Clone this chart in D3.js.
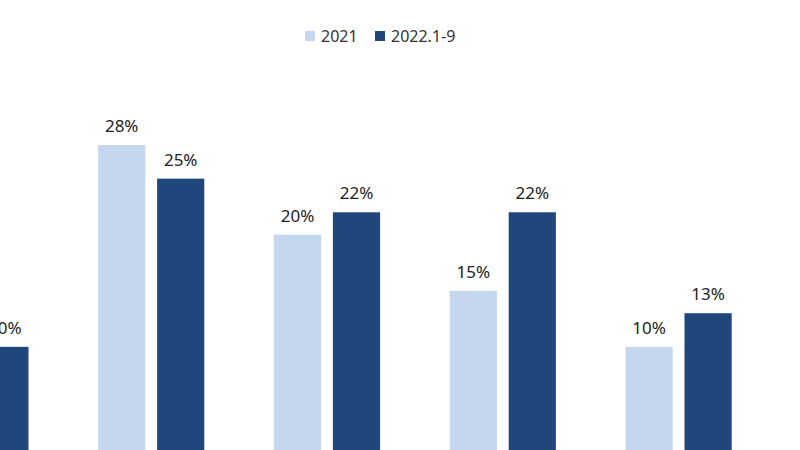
<!DOCTYPE html>
<html><head><meta charset="utf-8">
<script src="https://cdn.jsdelivr.net/npm/d3@7"></script>
<style>body{margin:0;background:#fff;} text{font-family:"Microsoft YaHei","Noto Sans",sans-serif;}</style>
</head><body>
<svg id="chart" width="800" height="450"></svg>
<script>
// groups (the first one is cut off at the left edge of the picture)
var categories = ["g0", "g1", "g2", "g3", "g4"];
var series = ["2021", "2022.1-9"];
var values2021 = [12, 28, 20, 15, 10];
var values2022 = [10, 25, 22, 22, 13];
var colors = ["#c5d7ee", "#1f477c"];

var svg = d3.select("#chart");

var x = d3.scaleBand().domain(categories).range([-112.5, 766.5]).paddingInner(0).paddingOuter(0);
var inner = d3.scaleBand().domain(series).range([0, x.bandwidth()]).paddingInner(0.2).paddingOuter(0.59);
var y = d3.scaleLinear().domain([0, 28]).range([459, 145]);

var rows = [];
categories.forEach(function(c, i){
    rows.push({cat: c, s: series[0], v: values2021[i]});
    rows.push({cat: c, s: series[1], v: values2022[i]});
});

svg.selectAll("rect.bar").data(rows).enter().append("rect")
    .attr("class", "bar")
    .attr("x", function(d){ return x(d.cat) + inner(d.s); })
    .attr("width", inner.bandwidth())
    .attr("y", function(d){ return y(d.v); })
    .attr("height", function(d){ return y(0) - y(d.v); })
    .attr("fill", function(d){ return colors[series.indexOf(d.s)]; });

svg.selectAll("text.lbl").data(rows).enter().append("text")
    .attr("class", "lbl")
    .attr("x", function(d){ return x(d.cat) + inner(d.s) + inner.bandwidth() / 2; })
    .attr("y", function(d){ return y(d.v) - 13; })
    .attr("text-anchor", "middle")
    .attr("font-size", 17).attr("fill", "#222")
    .text(function(d){ return d.v + "%"; });

// legend
var legend = svg.append("g").attr("transform", "translate(305,36)");
var lx = [0, 70];
series.forEach(function(s, i){
    legend.append("rect").attr("x", lx[i]).attr("y", -5).attr("width", 10).attr("height", 10).attr("fill", colors[i]);
    legend.append("text").attr("x", lx[i] + 16).attr("y", 6).attr("font-size", 16).attr("fill", "#333").text(s);
});
</script>
</body></html>
